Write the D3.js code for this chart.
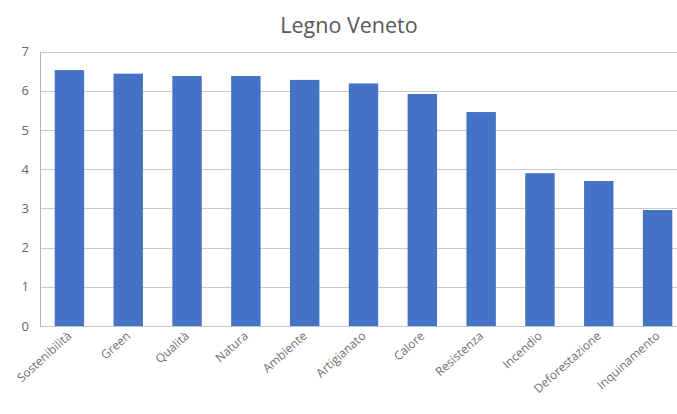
<!DOCTYPE html>
<html>
<head>
<meta charset="utf-8">
<script src="https://cdn.jsdelivr.net/npm/d3@7"></script>
<style>
  body { margin: 0; background: #fff; }
  svg { display: block; font-family: "Open Sans", "DejaVu Sans", sans-serif; }
</style>
</head>
<body>
<svg id="chart" width="677" height="414"></svg>
<script>
// Chart data
const categories = ["Sostenibilità", "Green", "Qualità", "Natura", "Ambiente", "Artigianato",
                    "Calore", "Resistenza", "Incendio", "Deforestazione", "Inquinamento"];
const values = [6.53, 6.44, 6.38, 6.38, 6.28, 6.19, 5.92, 5.46, 3.90, 3.70, 2.96];
const yTicks = [0, 1, 2, 3, 4, 5, 6, 7];
const chartTitle = "Legno Veneto";

const svg = d3.select("#chart");
const plot = { left: 40, right: 687, top: 51.7, bottom: 326 };

// Scales
let x = d3.scaleBand()
    .domain(categories)
    .range([plot.left, plot.right])
    .paddingInner(0.5)
    .paddingOuter(0.25);

let y = d3.scaleLinear()
    .domain([0, 7])
    .range([plot.bottom, plot.top]);

// Title
svg.append("text")
    .attr("x", 349)
    .attr("y", 33)
    .attr("text-anchor", "middle")
    .attr("font-size", "21.5px")
    .attr("fill", "#595959")
    .text(chartTitle);

// Horizontal gridlines
svg.append("g")
    .selectAll("line")
    .data(yTicks)
    .enter().append("line")
    .attr("x1", plot.left)
    .attr("x2", 677)
    .attr("y1", d => Math.round(y(d)) + 0.5)
    .attr("y2", d => Math.round(y(d)) + 0.5)
    .attr("stroke", "#c8c8c8")
    .attr("stroke-width", 1);

// Left axis line
svg.append("line")
    .attr("x1", plot.left + 0.5)
    .attr("x2", plot.left + 0.5)
    .attr("y1", Math.round(y(7)))
    .attr("y2", Math.round(y(0)) + 1)
    .attr("stroke", "#b4b4b4");

// Y tick labels
svg.append("g")
    .selectAll("text")
    .data(yTicks)
    .enter().append("text")
    .attr("x", 29)
    .attr("y", d => y(d) + 4.5)
    .attr("text-anchor", "end")
    .attr("font-size", "13px")
    .attr("fill", "#666")
    .text(d => d);

// Bars
svg.append("g")
    .selectAll("rect")
    .data(values)
    .enter().append("rect")
    .attr("x", (d, i) => x(categories[i]))
    .attr("width", x.bandwidth())
    .attr("y", d => y(d))
    .attr("height", d => y(0) - y(d))
    .attr("fill", "#4472c4");

// X labels, rotated
svg.append("g")
    .selectAll("text")
    .data(categories)
    .enter().append("text")
    .attr("transform", d => `translate(${x(d) + x.bandwidth() / 2 + 3},${plot.bottom + 11}) rotate(-42)`)
    .attr("text-anchor", "end")
    .attr("font-size", "12px")
    .attr("fill", "#707070")
    .text(d => d);
</script>
</body>
</html>
